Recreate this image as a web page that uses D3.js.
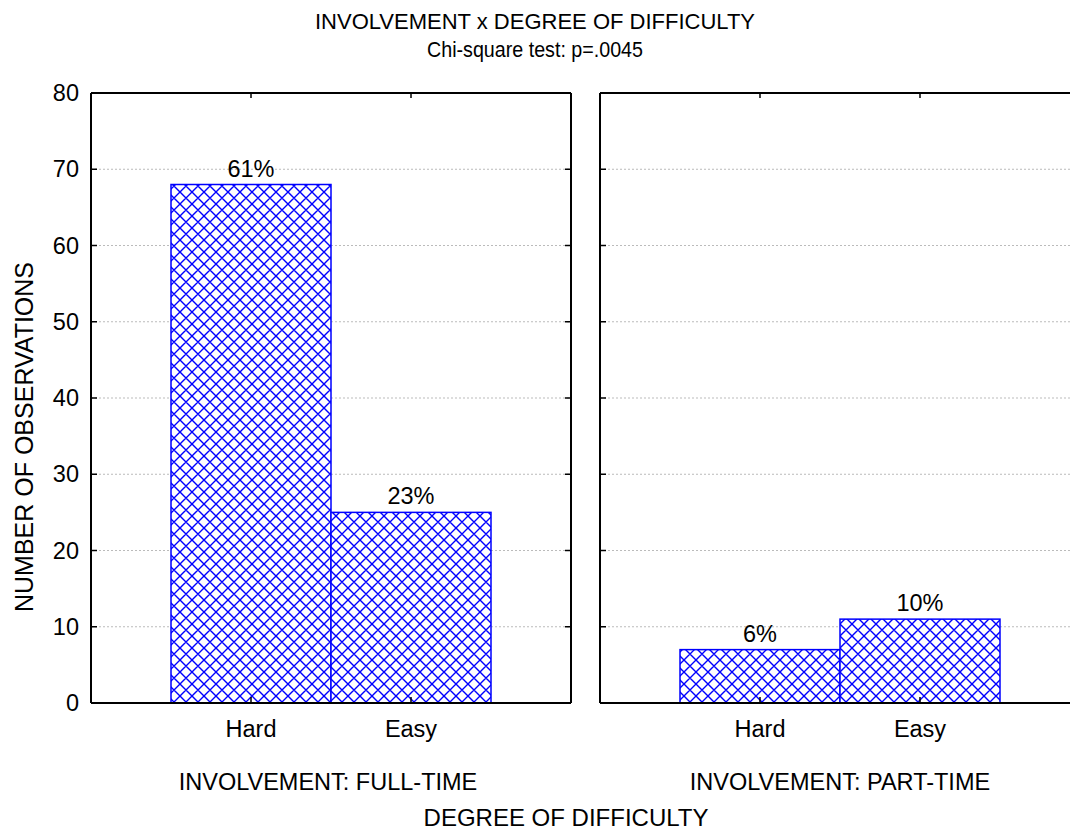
<!DOCTYPE html>
<html><head><meta charset="utf-8">
<script src="https://cdn.jsdelivr.net/npm/d3@7"></script>
<style>body{margin:0;background:#fff}svg{display:block}text{font-family:"Liberation Sans",Arial,sans-serif;fill:#000}</style>
</head><body><svg id="c" width="1070" height="831"></svg>
<script>
const panels = ["INVOLVEMENT: FULL-TIME", "INVOLVEMENT: PART-TIME"];
const categories = ["Hard", "Easy"];
const fullTime = [68, 25];
const partTime = [7, 11];
const pctFull = ["61%", "23%"];
const pctPart = ["6%", "10%"];
const yTicks = [0, 10, 20, 30, 40, 50, 60, 70, 80];

const FS = 23.5;
const svg = d3.select("#c");
const defs = svg.append("defs");
const pat = defs.append("pattern").attr("id","hatch").attr("patternUnits","userSpaceOnUse")
  .attr("width",12).attr("height",12);
pat.append("rect").attr("width",12).attr("height",12).attr("fill","#fff");
pat.append("path").attr("d","M0,0L12,12M12,0L0,12M-6,6L6,18M6,-6L18,6M-6,6L6,-6M6,18L18,6")
  .attr("stroke","#0000ff").attr("stroke-width",1.4).attr("fill","none");

const plotTop = 93, plotBottom = 703;
const y = d3.scaleLinear().domain([0,80]).range([plotBottom, plotTop]);
const panelX = [[91,571],[600,1080]];
const data = [fullTime, partTime];
const pcts = [pctFull, pctPart];
const panelLabelX = [328, 840];

panelX.forEach((px, i) => {
  const g = svg.append("g");
  const x = d3.scaleBand().domain(categories).range([px[0]+80, px[1]-80]).padding(0);
  g.selectAll(".grid").data(yTicks.filter(t=>t>0 && t<80)).enter().append("line")
    .attr("x1",px[0]).attr("x2",px[1]).attr("y1",d=>y(d)).attr("y2",d=>y(d))
    .attr("stroke","#bbb").attr("stroke-width",1).attr("stroke-dasharray","2,2");
  g.selectAll(".bar").data(categories).enter().append("rect")
    .attr("x",d=>x(d)).attr("width",x.bandwidth())
    .attr("y",(d,j)=>y(data[i][j])).attr("height",(d,j)=>y(0)-y(data[i][j]))
    .attr("fill","url(#hatch)").attr("stroke","#0000ff").attr("stroke-width",1.5);
  g.selectAll(".lab").data(categories).enter().append("text")
    .attr("x",d=>x(d)+x.bandwidth()/2).attr("y",(d,j)=>y(data[i][j])-8)
    .attr("text-anchor","middle").attr("font-size",FS).text((d,j)=>pcts[i][j]);
  g.append("line").attr("x1",px[0]).attr("x2",px[1]).attr("y1",plotTop).attr("y2",plotTop).attr("stroke","#000").attr("stroke-width",2);
  g.append("line").attr("x1",px[0]).attr("x2",px[1]).attr("y1",plotBottom).attr("y2",plotBottom).attr("stroke","#000").attr("stroke-width",2);
  g.append("line").attr("x1",px[0]).attr("x2",px[0]).attr("y1",plotTop).attr("y2",plotBottom).attr("stroke","#000").attr("stroke-width",2);
  g.append("line").attr("x1",px[1]).attr("x2",px[1]).attr("y1",plotTop).attr("y2",plotBottom).attr("stroke","#000").attr("stroke-width",2);
  yTicks.forEach(t=>{
    g.append("line").attr("x1",px[0]).attr("x2",px[0]+6).attr("y1",y(t)).attr("y2",y(t)).attr("stroke","#000").attr("stroke-width",1.5);
    g.append("line").attr("x1",px[1]-6).attr("x2",px[1]).attr("y1",y(t)).attr("y2",y(t)).attr("stroke","#000").attr("stroke-width",1.5);
  });
  categories.forEach(c=>{
    const cx = x(c)+x.bandwidth()/2;
    g.append("line").attr("x1",cx).attr("x2",cx).attr("y1",plotBottom).attr("y2",plotBottom-6).attr("stroke","#000").attr("stroke-width",1.5);
    g.append("line").attr("x1",cx).attr("x2",cx).attr("y1",plotTop).attr("y2",plotTop+5).attr("stroke","#000").attr("stroke-width",1.5);
    g.append("text").attr("x",cx).attr("y",737).attr("text-anchor","middle").attr("font-size",FS).text(c);
  });
  g.append("text").attr("x",panelLabelX[i]).attr("y",790).attr("text-anchor","middle").attr("font-size",FS).text(panels[i]);
});

const yAxis = svg.append("g").attr("transform",`translate(91,0)`)
  .call(d3.axisLeft(y).tickValues(yTicks).tickSize(0).tickPadding(12));
yAxis.select(".domain").remove();
yAxis.selectAll("text").attr("font-size",FS).style("font-family","Liberation Sans, Arial, sans-serif").attr("fill","#000");

svg.append("text").attr("transform","translate(33,437) rotate(-90)").attr("text-anchor","middle").attr("font-size",25).text("NUMBER OF OBSERVATIONS");
svg.append("text").attr("x",535).attr("y",29).attr("text-anchor","middle").attr("font-size",22).text("INVOLVEMENT x DEGREE OF DIFFICULTY");
svg.append("text").attr("x",535).attr("y",57).attr("text-anchor","middle").attr("font-size",21.5)
  .attr("textLength",216).attr("lengthAdjust","spacingAndGlyphs").text("Chi-square test: p=.0045");
svg.append("text").attr("x",566).attr("y",826).attr("text-anchor","middle").attr("font-size",24).text("DEGREE OF DIFFICULTY");
</script></body></html>
